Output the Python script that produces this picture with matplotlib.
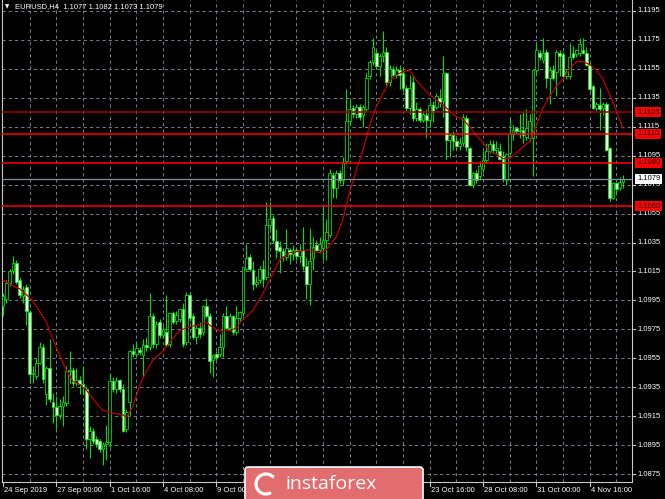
import matplotlib
matplotlib.use("Agg")
import matplotlib.pyplot as plt
import matplotlib.transforms as mtransforms
from matplotlib.patches import Rectangle, FancyBboxPatch, Arc

# EURUSD H4 candles (bar 0 = 24 Sep 08:00)
opens = [
    1.0991, 1.0996, 1.1007, 1.1015, 1.1021, 1.1009, 1.0998, 1.1004, 1.0987, 1.0944,
    1.0943, 1.0952, 1.0963, 1.0930, 1.0948, 1.0925, 1.0921, 1.0916, 1.0922, 1.0924,
    1.0946, 1.0947, 1.0938, 1.0940, 1.0937, 1.0934, 1.0899, 1.0905, 1.0899, 1.0898,
    1.0892, 1.0896, 1.0897, 1.0939, 1.0934, 1.0940, 1.0934, 1.0906, 1.0925, 1.0960,
    1.0958, 1.0961, 1.0957, 1.0964, 1.0963, 1.0984, 1.0965, 1.0980, 1.0971, 1.0973,
    1.0965, 1.0986, 1.0981, 1.0982, 1.0989, 1.0966, 1.0999, 1.0984, 1.0970, 1.0976,
    1.0973, 1.0991, 1.0984, 1.0954, 1.0958, 1.0958, 1.0963, 1.0984, 1.0976, 1.0984,
    1.0973, 1.0983, 1.0986, 1.1017, 1.1025, 1.1016, 1.1006, 1.1009, 1.1017, 1.1011,
    1.1047, 1.1052, 1.1036, 1.1032, 1.1029, 1.1025, 1.1030, 1.1027, 1.1030, 1.1026,
    1.1030, 1.1019, 1.1006, 1.1024, 1.1033, 1.1030, 1.1031, 1.1037, 1.1040, 1.1082,
    1.1073, 1.1083, 1.1078, 1.1091, 1.1119, 1.1128, 1.1124, 1.1129, 1.1123, 1.1127,
    1.1150, 1.1160, 1.1166, 1.1157, 1.1164, 1.1167, 1.1146, 1.1155, 1.1151, 1.1154,
    1.1152, 1.1142, 1.1128, 1.1146, 1.1121, 1.1127, 1.1120, 1.1123, 1.1120, 1.1130,
    1.1129, 1.1135, 1.1133, 1.1152, 1.1106, 1.1109, 1.1105, 1.1102, 1.1104, 1.1121,
    1.1100, 1.1075, 1.1083, 1.1081, 1.1086, 1.1092, 1.1098, 1.1103, 1.1099, 1.1098,
    1.1095, 1.1078, 1.1097, 1.1110, 1.1114, 1.1112, 1.1113, 1.1108, 1.1107, 1.1107,
    1.1154, 1.1166, 1.1161, 1.1167, 1.1149, 1.1154, 1.1153, 1.1166, 1.1165, 1.1150,
    1.1150, 1.1166, 1.1165, 1.1166, 1.1168, 1.1166, 1.1158, 1.1143, 1.1128, 1.1130,
    1.1128, 1.1131, 1.1100, 1.1066, 1.1076, 1.1073, 1.1077,
]
highs = [
    1.1000, 1.1009, 1.1017, 1.1026, 1.1023, 1.1011, 1.1005, 1.1006, 1.0988, 1.0950,
    1.0955, 1.0966, 1.0965, 1.0950, 1.0968, 1.0931, 1.0929, 1.0927, 1.0929, 1.0950,
    1.0960, 1.0949, 1.0948, 1.0943, 1.0950, 1.0936, 1.0908, 1.0907, 1.0901, 1.0899,
    1.0897, 1.0909, 1.0944, 1.0942, 1.0942, 1.0941, 1.0937, 1.0920, 1.0961, 1.0965,
    1.0967, 1.0963, 1.0968, 1.0970, 1.1000, 1.0986, 1.0981, 1.0982, 1.0977, 1.0999,
    1.0987, 1.0988, 1.0988, 1.0990, 1.0993, 1.1001, 1.1000, 1.0986, 1.0978, 1.0980,
    1.0992, 1.0997, 1.0986, 1.0958, 1.0960, 1.0972, 1.0986, 1.0991, 1.0986, 1.0985,
    1.0991, 1.0988, 1.1019, 1.1034, 1.1027, 1.1022, 1.1012, 1.1019, 1.1023, 1.1063,
    1.1063, 1.1054, 1.1044, 1.1036, 1.1031, 1.1044, 1.1031, 1.1033, 1.1032, 1.1034,
    1.1046, 1.1025, 1.1045, 1.1039, 1.1037, 1.1039, 1.1060, 1.1051, 1.1086, 1.1084,
    1.1085, 1.1085, 1.1094, 1.1141, 1.1134, 1.1130, 1.1131, 1.1131, 1.1130, 1.1152,
    1.1161, 1.1176, 1.1168, 1.1166, 1.1181, 1.1170, 1.1158, 1.1157, 1.1157, 1.1158,
    1.1155, 1.1144, 1.1151, 1.1151, 1.1132, 1.1129, 1.1126, 1.1127, 1.1133, 1.1133,
    1.1138, 1.1141, 1.1164, 1.1153, 1.1111, 1.1112, 1.1108, 1.1108, 1.1124, 1.1123,
    1.1101, 1.1084, 1.1085, 1.1091, 1.1098, 1.1104, 1.1106, 1.1106, 1.1105, 1.1104,
    1.1098, 1.1097, 1.1122, 1.1116, 1.1115, 1.1124, 1.1125, 1.1127, 1.1124, 1.1155,
    1.1172, 1.1168, 1.1176, 1.1169, 1.1156, 1.1158, 1.1168, 1.1168, 1.1167, 1.1154,
    1.1173, 1.1171, 1.1169, 1.1176, 1.1176, 1.1170, 1.1159, 1.1144, 1.1132, 1.1142,
    1.1132, 1.1132, 1.1101, 1.1077, 1.1077, 1.1080, 1.1082,
]
lows = [
    1.0984, 1.0993, 1.1005, 1.1013, 1.1006, 1.0997, 1.0993, 1.0978, 1.0938, 1.0938,
    1.0941, 1.0951, 1.0938, 1.0923, 1.0925, 1.0910, 1.0906, 1.0913, 1.0908, 1.0922,
    1.0938, 1.0936, 1.0936, 1.0930, 1.0930, 1.0892, 1.0886, 1.0896, 1.0894, 1.0890,
    1.0881, 1.0885, 1.0894, 1.0932, 1.0931, 1.0932, 1.0904, 1.0904, 1.0916, 1.0956,
    1.0956, 1.0957, 1.0942, 1.0960, 1.0961, 1.0962, 1.0962, 1.0969, 1.0969, 1.0963,
    1.0963, 1.0979, 1.0979, 1.0980, 1.0963, 1.0964, 1.0981, 1.0968, 1.0965, 1.0969,
    1.0971, 1.0983, 1.0945, 1.0942, 1.0953, 1.0956, 1.0956, 1.0975, 1.0974, 1.0971,
    1.0971, 1.0981, 1.0984, 1.1015, 1.1015, 1.1002, 1.1004, 1.1007, 1.1004, 1.1009,
    1.1044, 1.1035, 1.1024, 1.1014, 1.1022, 1.1023, 1.1020, 1.1023, 1.1023, 1.1021,
    1.1016, 1.0996, 1.0992, 1.1016, 1.1029, 1.1028, 1.1023, 1.1023, 1.1039, 1.1066,
    1.1066, 1.1076, 1.1075, 1.1089, 1.1116, 1.1121, 1.1121, 1.1120, 1.1115, 1.1126,
    1.1148, 1.1158, 1.1155, 1.1150, 1.1160, 1.1144, 1.1143, 1.1149, 1.1149, 1.1141,
    1.1140, 1.1126, 1.1124, 1.1119, 1.1119, 1.1118, 1.1118, 1.1107, 1.1115, 1.1118,
    1.1127, 1.1129, 1.1122, 1.1093, 1.1094, 1.1099, 1.1099, 1.1099, 1.1102, 1.1098,
    1.1074, 1.1073, 1.1076, 1.1078, 1.1084, 1.1090, 1.1097, 1.1097, 1.1096, 1.1092,
    1.1077, 1.1075, 1.1096, 1.1106, 1.1110, 1.1107, 1.1104, 1.1106, 1.1105, 1.1081,
    1.1152, 1.1161, 1.1159, 1.1142, 1.1131, 1.1147, 1.1136, 1.1150, 1.1148, 1.1148,
    1.1148, 1.1162, 1.1163, 1.1164, 1.1165, 1.1157, 1.1140, 1.1127, 1.1126, 1.1113,
    1.1123, 1.1098, 1.1064, 1.1065, 1.1068, 1.1071, 1.1073,
]
closes = [
    1.0998, 1.1007, 1.1015, 1.1021, 1.1008, 1.0999, 1.1003, 1.0988, 1.0944, 1.0945,
    1.0952, 1.0963, 1.0941, 1.0948, 1.0927, 1.0921, 1.0916, 1.0922, 1.0925, 1.0946,
    1.0947, 1.0938, 1.0940, 1.0937, 1.0935, 1.0899, 1.0905, 1.0898, 1.0896, 1.0892,
    1.0896, 1.0897, 1.0939, 1.0934, 1.0939, 1.0934, 1.0905, 1.0918, 1.0960, 1.0958,
    1.0962, 1.0959, 1.0964, 1.0963, 1.0984, 1.0965, 1.0979, 1.0971, 1.0975, 1.0964,
    1.0986, 1.0980, 1.0985, 1.0989, 1.0965, 1.0999, 1.0983, 1.0970, 1.0976, 1.0972,
    1.0991, 1.0984, 1.0953, 1.0957, 1.0956, 1.0963, 1.0984, 1.0976, 1.0984, 1.0973,
    1.0983, 1.0987, 1.1018, 1.1024, 1.1017, 1.1006, 1.1008, 1.1017, 1.1010, 1.1047,
    1.1051, 1.1037, 1.1030, 1.1029, 1.1026, 1.1031, 1.1027, 1.1030, 1.1026, 1.1030,
    1.1019, 1.1006, 1.1022, 1.1032, 1.1030, 1.1034, 1.1037, 1.1042, 1.1083, 1.1073,
    1.1083, 1.1078, 1.1090, 1.1119, 1.1127, 1.1124, 1.1129, 1.1122, 1.1129, 1.1149,
    1.1160, 1.1170, 1.1157, 1.1164, 1.1167, 1.1146, 1.1155, 1.1151, 1.1154, 1.1151,
    1.1142, 1.1128, 1.1142, 1.1121, 1.1127, 1.1120, 1.1124, 1.1120, 1.1130, 1.1125,
    1.1136, 1.1132, 1.1152, 1.1106, 1.1109, 1.1105, 1.1102, 1.1104, 1.1122, 1.1101,
    1.1075, 1.1083, 1.1078, 1.1088, 1.1092, 1.1098, 1.1103, 1.1099, 1.1100, 1.1093,
    1.1079, 1.1096, 1.1110, 1.1113, 1.1112, 1.1113, 1.1109, 1.1114, 1.1119, 1.1154,
    1.1168, 1.1163, 1.1166, 1.1149, 1.1154, 1.1149, 1.1167, 1.1164, 1.1150, 1.1153,
    1.1163, 1.1163, 1.1168, 1.1172, 1.1166, 1.1158, 1.1141, 1.1128, 1.1131, 1.1127,
    1.1131, 1.1099, 1.1066, 1.1076, 1.1072, 1.1077, 1.1079,
]

# moving average, sampled along the red line
ma_bars = [0, 3, 5, 8, 10, 13, 15, 17, 19, 21, 23, 25, 28, 30, 33, 36, 37, 39, 41, 43,
           45, 48, 51, 53, 56, 59, 61, 63, 65, 68, 70, 72, 75, 78, 80, 83, 86, 89, 92, 95,
           97, 100, 102, 104, 106, 108, 110, 112, 114, 116, 118, 120, 122, 124, 126, 128,
           131, 134, 136, 138, 140, 142, 144, 146, 148, 150, 152, 154, 156, 158, 160, 162,
           164, 166, 168, 170, 172, 174, 176, 178, 180, 182, 184, 186]
ma_vals = [1.1009, 1.1005, 1.1003, 1.0997, 1.0991, 1.0980, 1.0968, 1.0957, 1.0947, 1.0939,
           1.0937, 1.0933, 1.0924, 1.0919, 1.0917, 1.0916, 1.0914, 1.0922, 1.0936, 1.0946,
           1.0954, 1.0960, 1.0969, 1.0974, 1.0977, 1.0978, 1.0980, 1.0976, 1.0974, 1.0974,
           1.0976, 1.0982, 1.0988, 1.1000, 1.1009, 1.1023, 1.1028, 1.1029, 1.1030, 1.1028,
           1.1030, 1.1039, 1.1051, 1.1070, 1.1085, 1.1099, 1.1116, 1.1129, 1.1138, 1.1147,
           1.1151, 1.1153, 1.1154, 1.1147, 1.1142, 1.1137, 1.1132, 1.1126, 1.1122, 1.1120,
           1.1115, 1.1109, 1.1104, 1.1098, 1.1096, 1.1093, 1.1093, 1.1097, 1.1101, 1.1105,
           1.1116, 1.1128, 1.1136, 1.1143, 1.1148, 1.1155, 1.1160, 1.1160, 1.1158, 1.1154,
           1.1148, 1.1137, 1.1126, 1.1114]

price_labels = ["1.1195", "1.1175", "1.1155", "1.1135", "1.1115", "1.1095", "1.1075",
                "1.1055", "1.1035", "1.1015", "1.0995", "1.0975", "1.0955", "1.0935",
                "1.0915", "1.0895", "1.0875"]
# labels under the badge (11 Oct, 16 Oct, 21 Oct) are hidden in the picture
date_labels = ["24 Sep 2019", "27 Sep 00:00", "1 Oct 16:00", "4 Oct 08:00", "9 Oct 00:00",
               "23 Oct 16:00", "28 Oct 08:00", "31 Oct 00:00", "4 Nov 16:00"]
date_bars = [0, 16, 32, 48, 64, 128, 144, 160, 176]
hidden_bars = [80, 96, 112]

level_prices = [1.1125, 1.1110, 1.1090, 1.1060]
level_names = ["1.1125", "1.1110", "1.1090", "1.1060"]
bid_price = 1.1079
bid_name = "1.1079"
header = "EURUSD,H4  1.1077 1.1082 1.1073 1.1079"

W, H = 665, 499
FONT = "Liberation Sans"
GRID = "#6f7e8e"
AXC = "#c8c8c8"

fig = plt.figure(figsize=(W / 100, H / 100), dpi=100, facecolor="black")
ax = fig.add_axes([2 / W, 17 / H, 630 / W, 482 / H])
ax.set_facecolor("black")
ax.set_xlim(-0.3, 188.7)
ax.set_ylim(1.08695, 1.12026)
ax.set_xticks([])
ax.set_yticks([])
for side in ["left", "right", "bottom"]:
    ax.spines[side].set_color(AXC)
    ax.spines[side].set_linewidth(0.8)
ax.spines["top"].set_visible(False)

# grid
for lab in price_labels:
    ax.axhline(float(lab), color=GRID, lw=0.75, ls=(0, (3, 3)), zorder=1)
for b in range(8, 189, 8):
    ax.axvline(b, color=GRID, lw=0.75, ls=(0, (3, 3)), zorder=1)

# candles
for i in range(len(closes)):
    o, h, l, c = opens[i], highs[i], lows[i], closes[i]
    ax.vlines(i, l, h, color="#00e000", lw=0.8, zorder=3)
    bottom = min(o, c)
    height = max(abs(c - o), 0.00003)
    face = "black" if c >= o else "#dcffdc"
    ax.add_patch(Rectangle((i - 0.37, bottom), 0.74, height, facecolor=face,
                           edgecolor="#00ff00", lw=0.5, zorder=3))

ax.plot(ma_bars, ma_vals, color="#c00000", lw=0.9, zorder=4)

# horizontal levels and bid line
for p, name in zip(level_prices, level_names):
    col = "#9a0000" if name == "1.1125" else "#ff0000"
    ax.axhline(p, color=col, lw=1.1, zorder=5)
ax.axhline(bid_price, color="#8090a0", lw=0.9, zorder=5)

# right price scale
ty = mtransforms.blended_transform_factory(ax.transAxes, ax.transData)
for lab in price_labels:
    p = float(lab)
    ax.plot([1, 1 + 3 / 630], [p, p], transform=ty, color=AXC, lw=0.8, clip_on=False)
    ax.text(1 + 5 / 630, p, lab, transform=ty, color="white", fontsize=5.5,
            family=FONT, va="center", ha="left", clip_on=False)
for p, name in zip(level_prices, level_names):
    ax.text(1 + 5 / 630, p, name, transform=ty, color="#1a0000", fontsize=5.5,
            family=FONT, va="center", ha="left", clip_on=False, zorder=6,
            bbox=dict(boxstyle="square,pad=0.2", fc="#ff0000", ec="none"))
ax.text(1 + 5 / 630, bid_price, bid_name, transform=ty, color="black", fontsize=5.5,
        family=FONT, va="center", ha="left", clip_on=False, zorder=6,
        bbox=dict(boxstyle="square,pad=0.2", fc="white", ec="none"))

# time scale
tx = mtransforms.blended_transform_factory(ax.transData, ax.transAxes)
for b in date_bars + hidden_bars:
    ax.plot([b, b], [0, -4 / 482], transform=tx, color=AXC, lw=0.8, clip_on=False)
for b, lab in zip(date_bars, date_labels):
    ax.text(b + 0.3, -9 / 482, lab, transform=tx, color="white", fontsize=5.5,
            family=FONT, va="center", ha="left", clip_on=False)

# header
fig.text(5 / W, 1 - 7 / H, "\u25bc", color="white", fontsize=4, va="center",
         family="DejaVu Sans")
fig.text(15 / W, 1 - 7 / H, header, color="white", fontsize=5.5, va="center",
         family=FONT)

# instaforex badge
px = mtransforms.IdentityTransform()
badge = FancyBboxPatch((245, -6), 178, 38, boxstyle="round,pad=0,rounding_size=3",
                       transform=px, fc="#e36c6e", ec="white", lw=1.2, zorder=10)
fig.add_artist(badge)
fig.add_artist(Arc((266, 15), 20, 20, theta1=40, theta2=300, transform=px,
                   color="white", lw=2.3, zorder=11))
fig.text(331 / W, 15 / H, "instaforex", color="white", fontsize=14, family="Open Sans",
         ha="center", va="center", zorder=12)

fig.savefig("out.png", dpi=100, facecolor="black")
